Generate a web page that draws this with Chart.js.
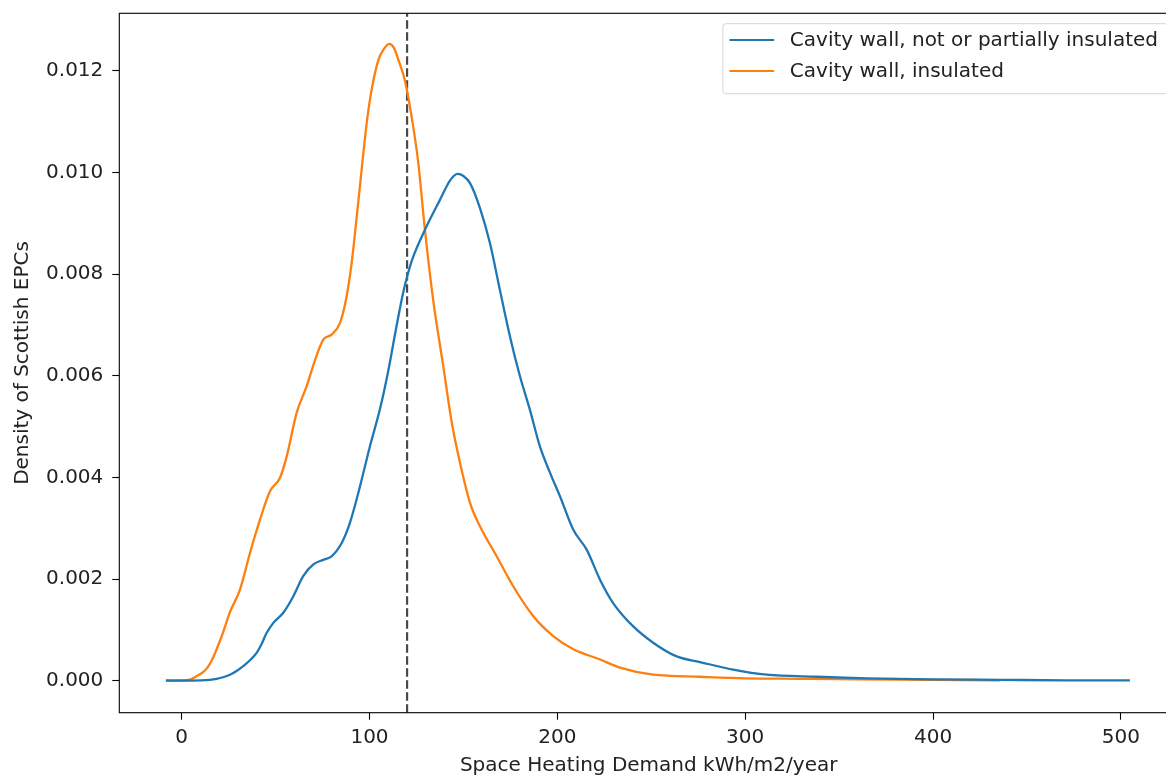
<!DOCTYPE html>
<html>
<head>
<meta charset="utf-8">
<script src="https://cdn.jsdelivr.net/npm/chart.js@4.4.1/dist/chart.umd.min.js"></script>
<style>
  html, body { margin: 0; padding: 0; background: #fff; overflow: hidden; width: 1166px; height: 776px; }
  #wrap { position: absolute; left: 0; top: 0; width: 1180px; height: 776px; }
</style>
</head>
<body>
<div id="wrap"><canvas id="c" width="1180" height="776"></canvas></div>
<script>
// ---- data ----
const SERIES_LABELS = ["Cavity wall, not or partially insulated", "Cavity wall, insulated"];

const BLUE_X = [-8.4, 0, 10, 15, 18.6, 22, 25.7, 29, 32.8, 36.5, 39.9, 42.5, 45.2, 48.8, 54.1, 59.4, 64.7, 70.1, 75.4, 79.8, 85.2, 89.6, 94.9, 100.2, 105.6, 110, 114, 118, 122.4, 129.5, 137.5, 143, 146.9, 150, 153.5, 158.8, 164.1, 169.4, 174.8, 180.1, 185.4, 190.7, 196, 201.4, 208.5, 215.6, 222.7, 229.7, 240.4, 251, 263.5, 275.9, 293.6, 311.4, 338, 364.6, 400, 435.6, 470, 504.8];
const BLUE_Y = [0.000005, 0.000005, 0.00001, 0.00002, 0.00004, 0.00007, 0.00012, 0.00019, 0.00029, 0.00041, 0.00055, 0.00072, 0.00094, 0.00114, 0.00134, 0.00166, 0.00206, 0.00229, 0.00238, 0.00245, 0.00271, 0.00311, 0.00382, 0.00461, 0.00535, 0.0061, 0.0069, 0.00765, 0.00825, 0.00887, 0.00946, 0.00985, 0.00997, 0.00993, 0.00979, 0.00930, 0.00861, 0.00769, 0.00677, 0.00599, 0.00533, 0.00461, 0.0041, 0.00363, 0.00297, 0.00258, 0.00199, 0.00153, 0.00107, 0.00075, 0.00048, 0.00037, 0.00022, 0.00012, 0.00008, 0.00005, 0.00003, 0.00002, 0.00001, 0.00001];

const ORANGE_X = [-8.4, 0, 5, 8, 11, 13.3, 16, 18.6, 22, 25.7, 31, 36.4, 41.7, 47, 52.3, 55.9, 61.2, 66.5, 71, 75.4, 79.8, 84.3, 87.8, 90.5, 93.2, 95.8, 98.5, 101.1, 104.7, 107.5, 110.5, 113, 115.5, 118.9, 122.4, 126, 129.5, 133.9, 139.3, 143.7, 147.2, 153.5, 158.8, 167.7, 176.5, 187.2, 197.8, 208.5, 222.7, 233.3, 251, 275.9, 300, 329, 360, 400, 435.6];
const ORANGE_Y = [0.00001, 0.00001, 0.00003, 0.00009, 0.00016, 0.00024, 0.0004, 0.00062, 0.00095, 0.00135, 0.00179, 0.00252, 0.00317, 0.00373, 0.00399, 0.00441, 0.00527, 0.00579, 0.00631, 0.00671, 0.00681, 0.00704, 0.00756, 0.00822, 0.00913, 0.01005, 0.01097, 0.01162, 0.01221, 0.01242, 0.01253, 0.01245, 0.0122, 0.0118, 0.0111, 0.01018, 0.00887, 0.00749, 0.00618, 0.0051, 0.00445, 0.0035, 0.00304, 0.00245, 0.00186, 0.00127, 0.00088, 0.00062, 0.00042, 0.00026, 0.00012, 0.00008, 0.00005, 0.00004, 0.00003, 0.00002, 0.00001];

const THRESHOLD_X = [120];
const X_TICKS = [0, 100, 200, 300, 400, 500];
const Y_TICKS = [0, 0.002, 0.004, 0.006, 0.008, 0.010, 0.012];
const X_TITLE = "Space Heating Demand kWh/m2/year";
const Y_TITLE = "Density of Scottish EPCs";

// ---- axis limits (matplotlib-style 5% margins) ----
const X_MIN = -33.2, X_MAX = 530.4;
const Y_MIN = -0.000627, Y_MAX = 0.01313;

const FONT = "'DejaVu Sans', sans-serif";
const TEXT_COLOR = '#222';

const pts = (xs, ys) => xs.map((x, i) => ({ x: x, y: ys[i] }));

const frame = {
  id: 'frame',
  afterDatasetsDraw(chart) {
    const { ctx, chartArea: a } = chart;
    ctx.save();
    ctx.strokeStyle = '#000';
    ctx.lineWidth = 1.1;
    ctx.strokeRect(a.left, a.top, a.right - a.left, a.bottom - a.top);
    ctx.restore();
  }
};

const innerLegend = {
  id: 'innerLegend',
  afterDraw(chart) {
    const { ctx, chartArea: a } = chart;
    const ds = chart.data.datasets.filter(d => d.showInLegend);
    ctx.save();
    ctx.font = "20px " + FONT;
    const tw = Math.max(...ds.map(d => ctx.measureText(d.label).width));
    const right = a.right - 10;
    const top = a.top + 10.4;
    const w = tw + 67 + 10;
    const left = right - w;
    const h = 70;
    const r = 3;
    ctx.beginPath();
    ctx.moveTo(left + r, top);
    ctx.lineTo(right - r, top);
    ctx.arcTo(right, top, right, top + r, r);
    ctx.lineTo(right, top + h - r);
    ctx.arcTo(right, top + h, right - r, top + h, r);
    ctx.lineTo(left + r, top + h);
    ctx.arcTo(left, top + h, left, top + h - r, r);
    ctx.lineTo(left, top + r);
    ctx.arcTo(left, top, left + r, top, r);
    ctx.closePath();
    ctx.fillStyle = 'rgba(255,255,255,0.8)';
    ctx.fill();
    ctx.strokeStyle = '#d6d6d6';
    ctx.lineWidth = 1;
    ctx.stroke();
    ds.forEach((d, i) => {
      const y = top + 16.3 + i * 31;
      ctx.beginPath();
      ctx.strokeStyle = d.borderColor;
      ctx.lineWidth = 2.2;
      ctx.moveTo(left + 6.6, y);
      ctx.lineTo(left + 51.3, y);
      ctx.stroke();
      ctx.fillStyle = TEXT_COLOR;
      ctx.textBaseline = 'middle';
      ctx.textAlign = 'left';
      ctx.fillText(d.label, left + 67, y + 1);
    });
    ctx.restore();
  }
};

new Chart(document.getElementById('c'), {
  type: 'line',
  data: {
    datasets: [
      {
        label: SERIES_LABELS[0], showInLegend: true,
        data: pts(BLUE_X, BLUE_Y),
        borderColor: '#1f77b4', borderWidth: 2.3, pointRadius: 0,
        cubicInterpolationMode: 'monotone', fill: false
      },
      {
        label: SERIES_LABELS[1], showInLegend: true,
        data: pts(ORANGE_X, ORANGE_Y),
        borderColor: '#ff7f0e', borderWidth: 2.3, pointRadius: 0,
        cubicInterpolationMode: 'monotone', fill: false
      },
      {
        label: 'threshold', showInLegend: false,
        data: [{ x: THRESHOLD_X[0], y: Y_MIN }, { x: THRESHOLD_X[0], y: Y_MAX }],
        borderColor: '#484848', borderWidth: 2.2, borderDash: [8.5, 3.5],
        pointRadius: 0, fill: false, tension: 0
      }
    ]
  },
  options: {
    responsive: false,
    animation: false,
    events: [],
    layout: { padding: { top: 13.3, right: 2, bottom: 0, left: 0 } },
    plugins: { legend: { display: false }, tooltip: { enabled: false } },
    scales: {
      x: {
        type: 'linear', min: X_MIN, max: X_MAX,
        afterBuildTicks: s => { s.ticks = X_TICKS.map(v => ({ value: v })); },
        afterFit: s => { s.height = 63.3; s.paddingLeft = 0; s.paddingRight = 0; },
        grid: { drawOnChartArea: false, drawTicks: true, tickLength: 7, tickColor: '#000', tickWidth: 1.1 },
        border: { display: false },
        ticks: { color: TEXT_COLOR, font: { family: FONT, size: 20 }, padding: 6, maxRotation: 0, autoSkip: false,
                 callback: v => String(Math.round(v)) },
        title: { display: true, text: X_TITLE, color: TEXT_COLOR, font: { family: FONT, size: 20, lineHeight: 1 }, padding: 0 }
      },
      y: {
        type: 'linear', min: Y_MIN, max: Y_MAX,
        afterBuildTicks: s => { s.ticks = Y_TICKS.map(v => ({ value: v })); },
        afterFit: s => { s.width = 119.3; s.paddingTop = 0; s.paddingBottom = 0; },
        grid: { drawOnChartArea: false, drawTicks: true, tickLength: 7, tickColor: '#000', tickWidth: 1.1 },
        border: { display: false },
        ticks: { color: TEXT_COLOR, font: { family: FONT, size: 20 }, padding: 9, autoSkip: false,
                 callback: v => Number(v).toFixed(3) },
        title: { display: true, text: Y_TITLE, color: TEXT_COLOR, font: { family: FONT, size: 20, lineHeight: 1 }, padding: { top: 12.5, bottom: 0 } }
      }
    }
  },
  plugins: [frame, innerLegend]
});
</script>
</body>
</html>
